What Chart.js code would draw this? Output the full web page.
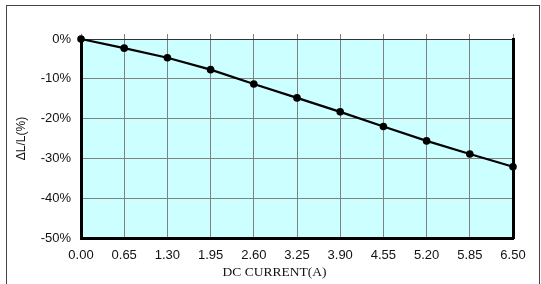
<!DOCTYPE html>
<html>
<head>
<meta charset="utf-8">
<script src="https://cdn.jsdelivr.net/npm/chart.js@4"></script>
<style>
html,body{margin:0;padding:0;background:#fff;}
#wrap{width:541px;height:284px;position:relative;}
</style>
</head>
<body>
<div id="wrap"><canvas id="c" width="541" height="284"></canvas></div>
<script>
const currentLabels = ['0.00','0.65','1.30','1.95','2.60','3.25','3.90','4.55','5.20','5.85','6.50'];
const deltaL = [0, -2.3, -4.7, -7.7, -11.3, -14.8, -18.3, -22.0, -25.6, -28.9, -32.1];
const yTicks = [0, -10, -20, -30, -40, -50];
const xTitle = 'DC CURRENT(A)';

const bgPlugin = {
  id: 'bg',
  beforeDraw(chart) {
    const {ctx, chartArea: a} = chart;
    ctx.save();
    ctx.fillStyle = '#fff';
    ctx.fillRect(0, 0, chart.width, chart.height);
    ctx.fillStyle = '#CCFFFF';
    ctx.fillRect(a.left, a.top, a.right - a.left, a.bottom - a.top);
    ctx.strokeStyle = '#444';
    ctx.lineWidth = 1;
    ctx.strokeRect(6.5, 5.5, 533, 300);
    ctx.restore();
  },
  afterDraw(chart) {
    const {ctx} = chart;
    ctx.save();
    ctx.fillStyle = '#111';
    ctx.font = '13.5px "Liberation Serif", "Times New Roman", serif';
    ctx.textAlign = 'center';
    ctx.textBaseline = 'middle';
    ctx.fillText(xTitle, 274.5, 272);
    ctx.restore();
  }
};

new Chart(document.getElementById('c'), {
  type: 'line',
  data: {
    labels: currentLabels,
    datasets: [{
      data: deltaL,
      borderColor: '#000',
      backgroundColor: '#000',
      borderWidth: 2.2,
      pointRadius: 3.8,
      pointBackgroundColor: '#000',
      pointBorderWidth: 0,
      tension: 0,
      clip: false
    }]
  },
  options: {
    responsive: false,
    animation: false,
    devicePixelRatio: 1,
    layout: {padding: {top: 34, right: 28, bottom: 0, left: 0}},
    plugins: {legend: {display: false}, tooltip: {enabled: false}},
    scales: {
      x: {
        type: 'category',
        position: 'bottom',
        offset: false,
        afterFit(s) { s.height = 46; },
        grid: {color: '#808080', lineWidth: 1, drawTicks: false},
        border: {color: '#000', width: 3},
        ticks: {padding: 10, color: '#111', font: {family: 'Liberation Sans, Arial', size: 13}, maxRotation: 0, autoSkip: false},
        title: {display: false}
      },
      x2: {
        type: 'category',
        position: 'top',
        offset: false,
        afterFit(s) { s.height = 5; },
        grid: {color: '#808080', lineWidth: 1, drawTicks: true, tickLength: 5, drawOnChartArea: false},
        border: {color: '#333', width: 1},
        ticks: {display: false}
      },
      y: {
        min: -50, max: 0,
        afterFit(s) { s.width = 81; },
        afterBuildTicks(s) { s.ticks = yTicks.map(v => ({value: v})); },
        grid: {color: '#808080', lineWidth: 1, drawTicks: false},
        border: {color: '#000', width: 3},
        ticks: {padding: 10, color: '#111', font: {family: 'Liberation Sans, Arial', size: 13}, callback: v => v + '%'},
        title: {display: true, text: 'ΔL/L(%)', color: '#111', font: {family: 'Liberation Sans, Arial', size: 12}, padding: {top: 14, bottom: 0}}
      },
      y2: {
        position: 'right',
        min: -50, max: 0,
        afterFit(s) { s.width = 0; },
        grid: {display: false, drawOnChartArea: false, drawTicks: false},
        border: {color: '#000', width: 3},
        ticks: {display: false}
      }
    }
  },
  plugins: [bgPlugin]
});
</script>
</body>
</html>
